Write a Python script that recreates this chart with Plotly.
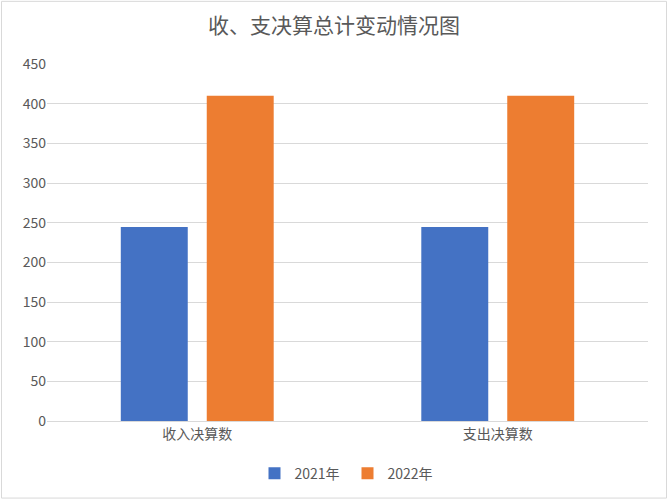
import plotly.graph_objects as go

# data
categories = ['收入决算数', '支出决算数']
years = ['2021年', '2022年']
values_2021 = [244.5, 244.5]
values_2022 = [410, 410]
colors = ['#4472C4', '#ED7D31']

W, H = 668, 502
ml, mr, mt, mb = 47, 20, 64, 79

fig = go.Figure()
for name, vals, col in zip(years, [values_2021, values_2022], colors):
    fig.add_trace(go.Bar(x=categories, y=vals, name=name, marker_color=col,
                         marker_line_width=0))

font = 'Noto Sans CJK SC, Noto Sans, sans-serif'
pw = W - ml - mr
ph = H - mt - mb

fig.update_layout(
    width=W, height=H,
    margin=dict(l=ml, r=mr, t=mt, b=mb),
    paper_bgcolor='white', plot_bgcolor='white',
    font=dict(family=font, color='#595959', size=14),
    title=dict(text='收、支决算总计变动情况图', x=0.5, xanchor='center',
               y=1 - 26 / H, yanchor='middle',
               font=dict(size=21, color='#595959')),
    barmode='group', bargap=0.428, bargroupgap=0.221,
    legend=dict(orientation='h', x=0.5, xanchor='center', y=-(476 - 423) / ph,
                yanchor='middle', font=dict(size=14, color='#595959'),
                itemwidth=30, entrywidth=48, traceorder='normal'),
    showlegend=True,
    shapes=[dict(type='rect', xref='paper', yref='paper',
                 x0=-(ml - 1.5) / pw, x1=1 + (mr - 1.5) / pw,
                 y0=-(mb - 1.5) / ph, y1=1 + (mt - 1) / ph,
                 line=dict(color='#D9D9D9', width=1))],
)
fig.update_yaxes(range=[0, 450], dtick=50, gridcolor='#D9D9D9', gridwidth=1,
                 zeroline=False, showline=False, ticks='',
                 tickfont=dict(size=14, color='#595959'))
fig.update_xaxes(showline=True, linecolor='#D9D9D9', linewidth=1, ticks='',
                 tickfont=dict(size=14, color='#595959'))

# page margin off so the figure sits at the window corner
fig.write_html("out.html", config={'displayModeBar': False},
               post_script="document.body.style.margin='0';")
